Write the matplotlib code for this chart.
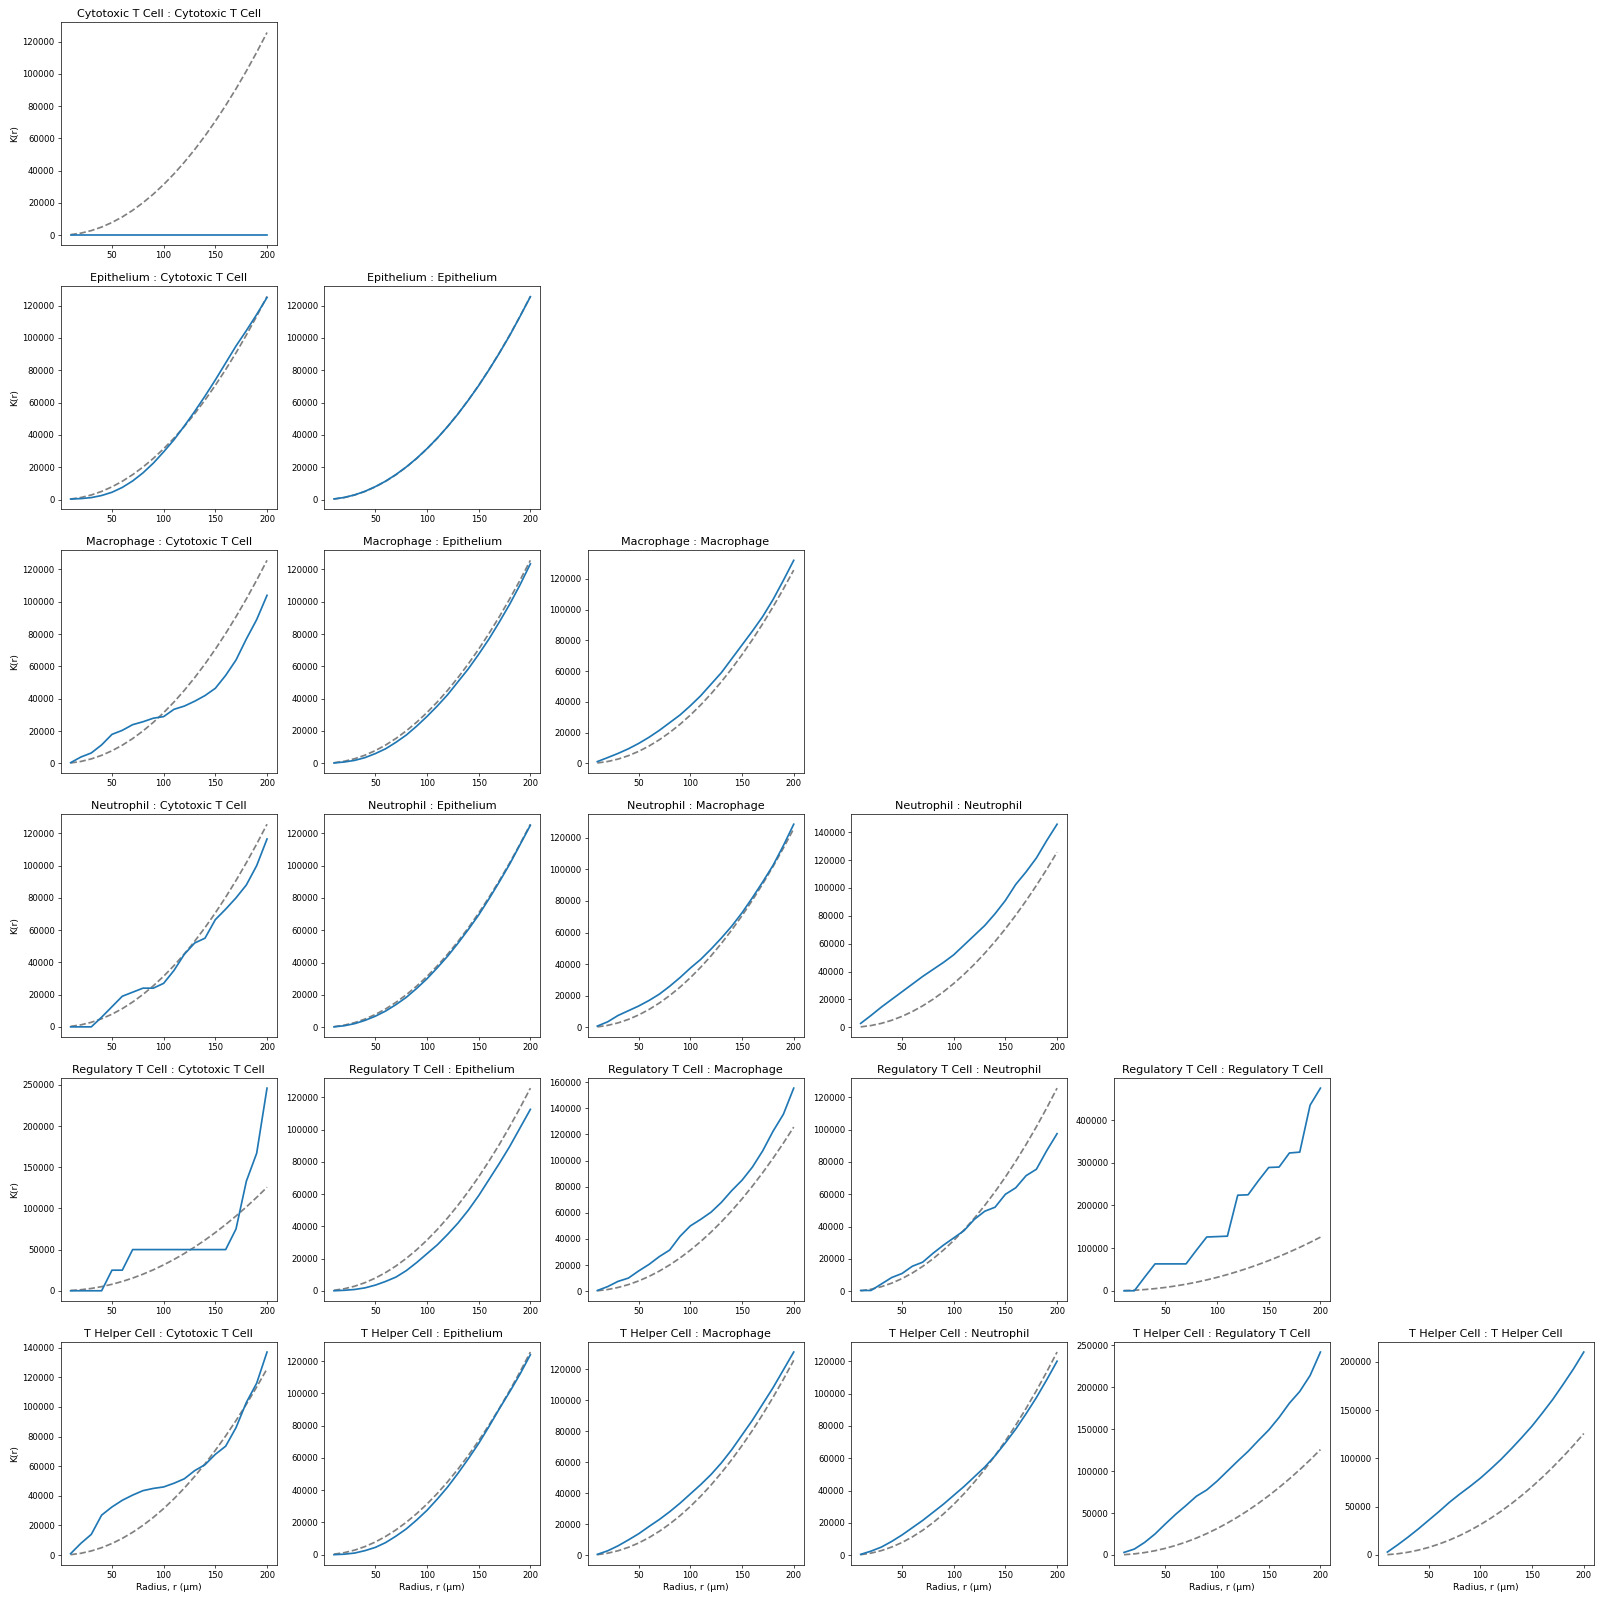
import numpy as np
import matplotlib
matplotlib.use("Agg")
import matplotlib.pyplot as plt

cell_types = ["Cytotoxic T Cell", "Epithelium", "Macrophage", "Neutrophil",
              "Regulatory T Cell", "T Helper Cell"]

radii = [10, 20, 30, 40, 50, 60, 70, 80, 90, 100,
         110, 120, 130, 140, 150, 160, 170, 180, 190, 200]

# K(r) under complete spatial randomness (pi * r^2)
csr_k = [314, 1257, 2827, 5027, 7854, 11310, 15394, 20106, 25447, 31416,
         38013, 45239, 53093, 61575, 70686, 80425, 90792, 101788, 113411, 125664]

# observed K(r), one list per (centre type, neighbour type)
k_ctc_ctc = [0] * 20
k_epi_ctc = [300, 600, 1200, 2500, 4500, 7500, 11500, 16500, 22500, 29500,
             37000, 45500, 54500, 64000, 74000, 84500, 95000, 104500, 114500, 125000]
k_epi_epi = [400, 1300, 2900, 5100, 8000, 11400, 15500, 20200, 25500, 31500,
             38000, 45200, 53000, 61500, 70500, 80300, 90600, 101500, 113300, 125500]
k_mac_ctc = [500, 4000, 6500, 11500, 18000, 20500, 24000, 25800, 28000, 29000,
             33500, 35500, 38500, 42000, 46500, 54500, 64000, 77000, 89000, 104000]
k_mac_epi = [200, 800, 1800, 3500, 6000, 9000, 13000, 17500, 23000, 29000,
             35500, 42500, 50500, 58500, 67500, 77000, 87500, 98500, 110500, 123500]
k_mac_mac = [1200, 3800, 6500, 9500, 13000, 17000, 21500, 26500, 31500, 37500,
             44000, 51500, 59000, 68000, 77000, 86000, 95500, 106500, 119000, 132000]
k_neu_ctc = [0, 0, 0, 6000, 12500, 19000, 21500, 24000, 24000, 27000,
             35000, 45000, 52000, 55000, 66500, 73000, 80000, 88000, 100000, 116500]
k_neu_epi = [200, 900, 2200, 4200, 6800, 10000, 14000, 18500, 24000, 30000,
             36800, 44000, 52000, 60500, 69500, 79500, 90000, 101000, 113000, 125000]
k_neu_mac = [800, 3500, 7500, 10500, 13500, 17000, 21000, 26000, 31500, 37500,
             43000, 49500, 56500, 64000, 72500, 82000, 92000, 102500, 115000, 128500]
k_neu_neu = [2800, 8500, 14500, 20000, 25500, 31000, 36500, 41500, 46500, 52000,
             59000, 66000, 73000, 81500, 91000, 102500, 111500, 121500, 134000, 145700]
k_reg_ctc = [0, 0, 0, 0, 25000, 25000, 50000, 50000, 50000, 50000,
             50000, 50000, 50000, 50000, 50000, 50000, 75000, 133000, 167000, 246000]
k_reg_epi = [0, 300, 800, 1800, 3500, 5800, 8500, 12500, 17500, 23000,
             28500, 35000, 42000, 50000, 59000, 69000, 79000, 89500, 101000, 112500]
k_reg_mac = [500, 3500, 7500, 10000, 15500, 20500, 26500, 31500, 42000, 50000,
             55000, 60500, 68000, 77000, 85000, 95000, 107500, 122500, 135500, 155500]
k_reg_neu = [500, 500, 4500, 8500, 11000, 15500, 18000, 23500, 28500, 33000,
             37500, 44500, 49500, 52000, 60000, 64000, 71500, 75500, 87000, 97500]
k_reg_reg = [0, 0, 32000, 63000, 63000, 63000, 63000, 95000, 126000, 127000,
             128000, 224000, 225000, 258000, 289000, 290000, 323000, 325000, 435000, 475000]
k_th_ctc = [1000, 8000, 14000, 27000, 32500, 37000, 40500, 43500, 45000, 46000,
            48500, 51500, 57000, 61000, 68000, 73500, 86000, 103000, 116000, 137000]
k_th_epi = [0, 300, 1000, 2500, 4500, 7500, 11500, 16000, 21500, 27500,
            34500, 42000, 50500, 59500, 69000, 79500, 90500, 101000, 112000, 124000]
k_th_mac = [500, 2800, 6000, 9800, 13800, 18500, 23000, 28000, 33500, 39500,
            45500, 52000, 59500, 68000, 77500, 87000, 97500, 108000, 119500, 131000]
k_th_neu = [500, 2500, 5000, 8500, 12500, 17000, 21500, 26500, 31500, 37000,
            42500, 48500, 54500, 61500, 69500, 78000, 87500, 97500, 108500, 120000]
k_th_reg = [3000, 7000, 15000, 25000, 37000, 48500, 59000, 70000, 77500, 88000,
            100000, 112000, 123500, 136500, 149000, 164000, 181000, 195000, 214000, 242000]
k_th_th = [3000, 10500, 18500, 27000, 36000, 45000, 54500, 63000, 71000, 79500,
           89000, 99000, 110000, 121500, 133500, 147000, 161000, 176500, 192500, 210000]

curves = {
    (0, 0): k_ctc_ctc,
    (1, 0): k_epi_ctc, (1, 1): k_epi_epi,
    (2, 0): k_mac_ctc, (2, 1): k_mac_epi, (2, 2): k_mac_mac,
    (3, 0): k_neu_ctc, (3, 1): k_neu_epi, (3, 2): k_neu_mac, (3, 3): k_neu_neu,
    (4, 0): k_reg_ctc, (4, 1): k_reg_epi, (4, 2): k_reg_mac, (4, 3): k_reg_neu,
    (4, 4): k_reg_reg,
    (5, 0): k_th_ctc, (5, 1): k_th_epi, (5, 2): k_th_mac, (5, 3): k_th_neu,
    (5, 4): k_th_reg, (5, 5): k_th_th,
}

n = len(cell_types)
fig, axes = plt.subplots(n, n, figsize=(26, 26), dpi=1600 / 26)
fig.subplots_adjust(left=0.038, right=0.996, bottom=0.022, top=0.986,
                    wspace=0.219, hspace=0.184)

for i in range(n):
    for j in range(n):
        ax = axes[i, j]
        if j > i:
            ax.axis("off")
            continue
        ax.plot(radii, csr_k, color="gray", ls="--", lw=2)
        ax.plot(radii, curves[(i, j)], color="C0", lw=2)
        ax.set_title(f"{cell_types[i]} : {cell_types[j]}", fontsize=13)
        ax.tick_params(labelsize=10)
        if j == 0:
            ax.set_ylabel("K(r)", fontsize=10.8)
        if i == n - 1:
            ax.set_xlabel("Radius, r (μm)", fontsize=10.8)

fig.savefig("out.png", dpi=1600 / 26)
